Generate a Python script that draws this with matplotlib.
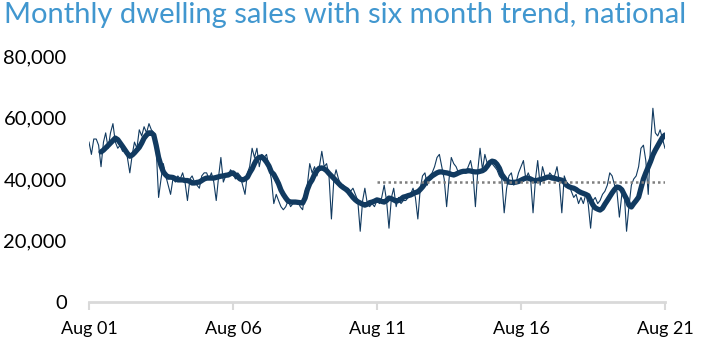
import numpy as np
import pandas as pd
import matplotlib.pyplot as plt
import matplotlib.dates as mdates

# Monthly dwelling sales, Aug 2001 - Aug 2021
sales_2001 = [52000, 48000, 53000, 53000, 51000]  # Aug-Dec
sales_2002 = [44000, 52000, 55000, 50000, 55000, 58000, 52000, 50000, 51000, 49000, 50000, 47000]
sales_2003 = [42000, 48000, 52000, 50000, 56000, 54000, 57000, 55000, 58000, 56000, 55000, 50000]
sales_2004 = [34000, 40000, 45000, 41000, 38000, 35000, 40000, 39000, 41000, 40000, 42000, 39000]
sales_2005 = [33000, 40000, 41000, 39000, 38000, 37000, 41000, 42000, 42000, 40000, 42000, 39000]
sales_2006 = [33000, 41000, 47000, 39000, 41000, 41000, 43000, 42000, 40000, 42000, 41000, 38000]
sales_2007 = [35000, 42000, 44000, 50000, 47000, 50000, 44000, 48000, 47000, 48000, 44000, 40000]
sales_2008 = [32000, 35000, 33000, 31000, 30000, 31000, 33000, 31000, 32000, 32000, 33000, 31000]
sales_2009 = [30000, 36000, 38000, 45000, 42000, 44000, 41000, 44000, 49000, 44000, 45000, 41000]
sales_2010 = [27000, 40000, 43000, 40000, 38000, 38000, 37000, 37000, 36000, 37000, 35000, 33000]
sales_2011 = [23000, 33000, 37000, 32000, 31000, 32000, 31000, 33000, 32000, 34000, 38000, 33000]
sales_2012 = [24000, 34000, 37000, 31000, 34000, 32000, 33000, 33000, 34000, 35000, 37000, 34000]
sales_2013 = [27000, 37000, 41000, 42000, 38000, 41000, 42000, 44000, 47000, 48000, 44000, 40000]
sales_2014 = [31000, 40000, 47000, 45000, 44000, 42000, 42000, 43000, 42000, 44000, 46000, 42000]
sales_2015 = [31000, 43000, 50000, 43000, 48000, 45000, 46000, 45000, 44000, 43000, 41000, 40000]
sales_2016 = [29000, 37000, 41000, 42000, 38000, 39000, 42000, 44000, 46000, 40000, 42000, 40000]
sales_2017 = [29000, 40000, 46000, 38000, 44000, 41000, 40000, 42000, 41000, 41000, 44000, 39000]
sales_2018 = [29000, 41000, 39000, 38000, 36000, 34000, 35000, 32000, 34000, 32000, 35000, 32000]
sales_2019 = [24000, 33000, 34000, 32000, 33000, 35000, 36000, 38000, 42000, 41000, 38000, 36000]
sales_2020 = [27600, 35000, 36000, 23000, 31000, 38000, 40000, 41000, 44000, 50000, 51000, 46000]
sales_2021 = [35000, 52000, 63000, 55000, 54000, 56000, 53000, 50000]  # Jan-Aug

# Six month trend, Jan 2002 - Aug 2021 (thousands)
trend_2002 = [48.8, 49.4, 50.1, 50.9, 51.7, 52.5, 53.3, 52.8, 51.7, 50.6, 49.4, 48.3]
trend_2003 = [47.4, 47.8, 48.5, 49.4, 50.3, 51.7, 53.3, 54.3, 55.0, 55.0, 54.3, 51.0]
trend_2004 = [47.0, 44.3, 42.3, 41.3, 40.6, 40.6, 40.5, 40.1, 39.7, 39.7, 39.7, 39.5]
trend_2005 = [39.5, 39.2, 38.7, 38.7, 38.9, 39.0, 39.5, 40.0, 40.3, 40.3, 40.3, 40.3]
trend_2006 = [40.5, 40.7, 40.9, 41.0, 41.2, 41.3, 41.7, 42.0, 41.3, 40.7, 40.0, 39.7]
trend_2007 = [40.0, 40.6, 42.0, 43.3, 45.0, 46.5, 47.0, 47.2, 46.5, 45.5, 44.2, 42.3]
trend_2008 = [41.5, 40.0, 38.5, 36.4, 35.0, 33.8, 32.8, 32.5, 32.5, 32.5, 32.4, 32.3]
trend_2009 = [32.2, 33.8, 36.5, 38.5, 39.7, 41.5, 42.7, 43.5, 43.6, 43.3, 42.7, 41.8]
trend_2010 = [41.0, 40.2, 39.4, 38.6, 37.8, 37.2, 36.7, 36.0, 35.0, 34.0, 33.2, 32.6]
trend_2011 = [32.2, 31.8, 31.5, 31.8, 32.3, 32.5, 32.8, 33.2, 33.0, 32.7, 32.5, 33.0]
trend_2012 = [33.8, 33.6, 33.2, 32.8, 33.0, 33.5, 34.1, 34.3, 34.6, 34.8, 35.2, 35.6]
trend_2013 = [35.8, 36.6, 37.4, 38.5, 39.7, 40.3, 41.0, 41.5, 42.0, 42.3, 42.3, 42.1]
trend_2014 = [42.0, 41.8, 41.5, 41.3, 41.6, 42.0, 42.3, 42.5, 42.5, 42.7, 42.6, 42.4]
trend_2015 = [42.3, 42.3, 42.5, 42.7, 43.2, 44.2, 45.3, 45.8, 45.6, 44.8, 43.5, 41.5]
trend_2016 = [40.4, 39.4, 39.0, 38.9, 38.9, 39.0, 39.2, 39.6, 40.0, 40.3, 40.3, 40.0]
trend_2017 = [39.6, 39.4, 39.6, 39.8, 40.0, 40.3, 40.6, 40.6, 40.3, 40.2, 40.0, 39.8]
trend_2018 = [39.6, 39.0, 38.0, 37.5, 37.2, 37.0, 36.6, 36.0, 35.6, 35.3, 35.0, 34.6]
trend_2019 = [33.0, 31.5, 30.6, 30.2, 29.9, 30.5, 31.8, 33.0, 34.3, 35.5, 36.6, 37.4]
trend_2020 = [37.2, 36.5, 35.0, 33.5, 31.5, 30.9, 32.0, 33.0, 34.1, 37.0, 40.0, 42.0]
trend_2021 = [43.9, 45.8, 47.8, 49.4, 50.8, 52.2, 53.5, 54.3]

# ten year average reference line
avg_level = 39000
avg_start, avg_end = '2011-08-01', '2021-08-01'

sales = (sales_2001 + sales_2002 + sales_2003 + sales_2004 + sales_2005 + sales_2006
         + sales_2007 + sales_2008 + sales_2009 + sales_2010 + sales_2011 + sales_2012
         + sales_2013 + sales_2014 + sales_2015 + sales_2016 + sales_2017 + sales_2018
         + sales_2019 + sales_2020 + sales_2021)
trend = (trend_2002 + trend_2003 + trend_2004 + trend_2005 + trend_2006 + trend_2007
         + trend_2008 + trend_2009 + trend_2010 + trend_2011 + trend_2012 + trend_2013
         + trend_2014 + trend_2015 + trend_2016 + trend_2017 + trend_2018 + trend_2019
         + trend_2020 + trend_2021)
sales_dates = pd.date_range('2001-08-01', periods=len(sales), freq='MS')
trend_dates = pd.date_range('2002-01-01', periods=len(trend), freq='MS')

plt.rcParams['font.family'] = ['Lato', 'DejaVu Sans']

fig = plt.figure(figsize=(7.05, 3.51), dpi=100)
ax = fig.add_axes([0.1262, 0.1396, 0.817, 0.7009])

navy = '#113A60'
ax.plot(sales_dates, sales, color=navy, lw=0.8)
ax.plot(trend_dates, np.array(trend) * 1000, color=navy, lw=3.8, solid_capstyle='round')
ax.plot(pd.to_datetime([avg_start, avg_end]), [avg_level, avg_level],
        color='#7F7F7F', lw=1.8, linestyle=(0, (1, 1.2)))

ax.set_xlim(pd.Timestamp('2001-08-01'), pd.Timestamp('2021-08-01'))
ax.set_ylim(0, 80000)
ax.set_yticks([0, 20000, 40000, 60000, 80000])
ax.yaxis.set_major_formatter(plt.FuncFormatter(lambda v, p: f'{int(v):,}'))
ax.set_xticks(pd.to_datetime(['2001-08-01', '2006-08-01', '2011-08-01', '2016-08-01', '2021-08-01']))
ax.xaxis.set_major_formatter(mdates.DateFormatter('%b %y'))

for s in ['top', 'right', 'left']:
    ax.spines[s].set_visible(False)
ax.spines['bottom'].set_color('#D9D9D9')
ax.spines['bottom'].set_linewidth(2)
ax.tick_params(axis='x', colors='#D9D9D9', length=6, width=1.5, labelcolor='black',
               labelsize=13, pad=8)
ax.tick_params(axis='y', length=0, labelsize=14.5, pad=16)

fig.text(0.006, 0.995, 'Monthly dwelling sales with six month trend, national',
         color='#4197CF', fontsize=21, va='top', ha='left')

plt.savefig('out.png', dpi=100)
